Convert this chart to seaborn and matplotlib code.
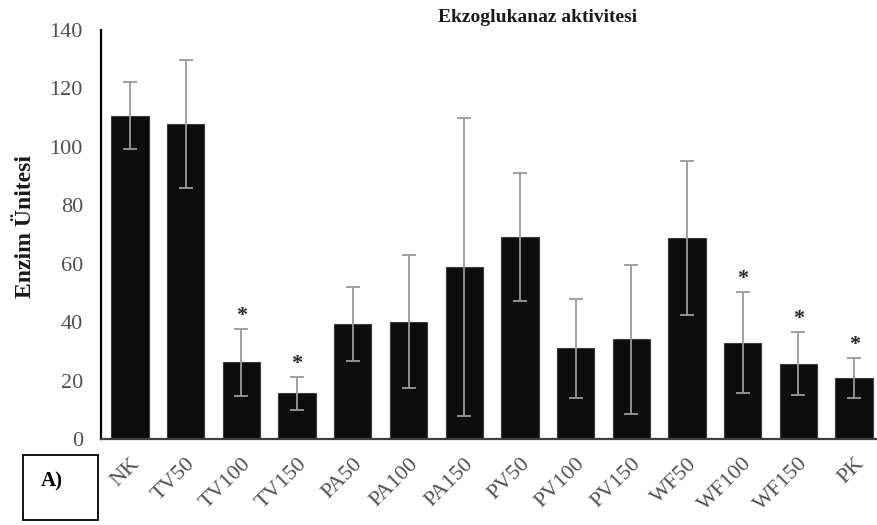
import matplotlib
matplotlib.use("Agg")
import matplotlib.pyplot as plt
import seaborn as sns
import pandas as pd
from matplotlib.patches import Rectangle

categories = ["NK", "TV50", "TV100", "TV150", "PA50", "PA100", "PA150",
              "PV50", "PV100", "PV150", "WF50", "WF100", "WF150", "PK"]
means = [110.7, 107.8, 26.3, 15.6, 39.4, 40.2, 58.9,
         69.2, 31.1, 34.1, 68.7, 33.0, 25.7, 20.8]
errors = [11.5, 22.0, 11.5, 5.7, 12.8, 22.8, 50.9,
          22.0, 16.9, 25.4, 26.3, 17.2, 10.8, 6.9]
significant = [False, False, True, True, False, False, False,
               False, False, False, False, True, True, True]
yticks = [0, 20, 40, 60, 80, 100, 120, 140]

df = pd.DataFrame({"grup": categories, "deger": means})

sns.set_style("white")
plt.rcParams["font.family"] = ["Liberation Serif", "DejaVu Serif"]

fig = plt.figure(figsize=(8.77, 5.25), dpi=100)
ax = fig.add_axes([101 / 877, 86 / 525, 1 - 101 / 877, (439 - 30) / 525])

sns.barplot(data=df, x="grup", y="deger", ax=ax, color="#0d0d0d",
            saturation=1, width=0.67, edgecolor="#3a3a3a", linewidth=0.8,
            errorbar=None)

xs = list(range(len(categories)))
ax.errorbar(xs, means, yerr=errors, fmt="none", ecolor="#9a9a9a",
            elinewidth=1.3, capsize=5, capthick=1.3, zorder=3)

for x, m, e, s in zip(xs, means, errors, significant):
    if s:
        ax.text(x, m + e + 1.0, "*", ha="center", va="bottom",
                fontsize=16, fontweight="bold", color="#262626")

ax.set_ylim(0, 140)
ax.set_xlim(-0.52, 13.41)
ax.set_yticks(yticks)
ax.set_yticklabels([str(t) for t in yticks], fontsize=16, color="#505050")
ax.set_xticks(xs)
ax.set_xticklabels(categories, rotation=45, ha="right", rotation_mode="anchor",
                   fontsize=16, color="#505050")
ax.tick_params(axis="y", length=0, pad=13)
ax.tick_params(axis="x", length=0, pad=11)
ax.set_xlabel("")
ax.set_ylabel("")

for side in ["top", "right"]:
    ax.spines[side].set_visible(False)
ax.spines["left"].set_color("black")
ax.spines["left"].set_linewidth(1.6)
ax.spines["bottom"].set_color("#404040")
ax.spines["bottom"].set_linewidth(1.6)

fig.text(26 / 877, 1 - 226.5 / 525, "Enzim Ünitesi", rotation=90,
         ha="center", va="center", fontsize=17, fontweight="bold",
         color="#1a1a1a")

fig.text(538 / 877, 1 - 18 / 525, "Ekzoglukanaz aktivitesi", ha="center",
         va="center", fontsize=14, fontweight="bold", color="#1a1a1a")

fig.patches.append(Rectangle((23 / 877, 1 - 520 / 525), 75 / 877, 65 / 525,
                             transform=fig.transFigure, fill=False,
                             edgecolor="black", linewidth=1.3))
fig.text(52 / 877, 1 - 481 / 525, "A)", ha="center", va="center",
         fontsize=15, fontweight="bold", color="black")

fig.savefig("out.png", dpi=100)
